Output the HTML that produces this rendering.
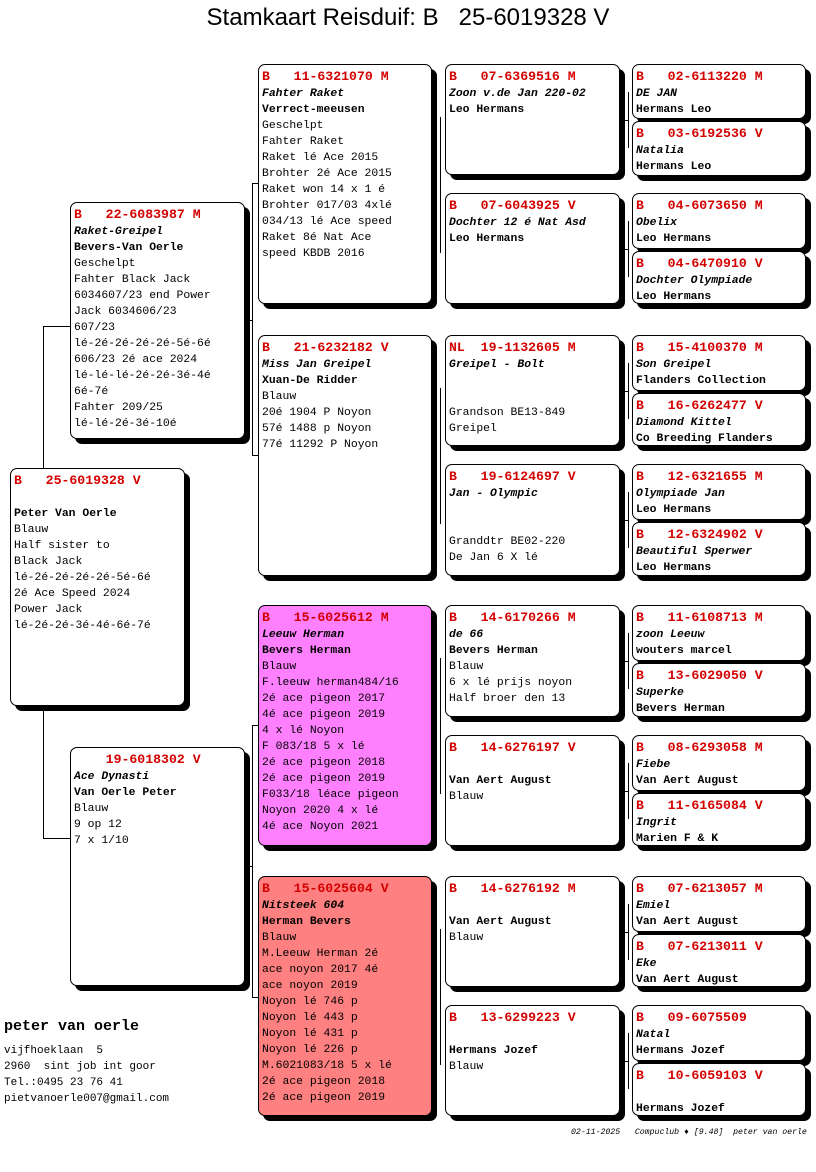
<!DOCTYPE html>
<html><head><meta charset="utf-8"><style>
body{margin:0;width:816px;height:1172px;background:#fff;position:relative;overflow:hidden;font-family:"Liberation Mono",monospace;font-size:11.4px;color:#000}
.bx{position:absolute;border:1px solid #000;border-radius:7px;background:#fff;box-shadow:5px 5px 0 #000;padding:4px 0 0 3px;box-sizing:border-box;line-height:16px;white-space:pre;overflow:hidden}
.r{color:#d40000;font-weight:bold;font-size:13.2px}
.i{font-weight:bold;font-style:italic}
.b{font-weight:bold}
.l{position:absolute;background:#000}
.t{position:absolute;font-family:"Liberation Sans",sans-serif}
</style></head><body>
<div class="t" style="left:0;width:816px;text-align:center;top:4px;font-size:24px">Stamkaart Reisduif: B&nbsp;&nbsp; 25-6019328 V</div>

<!-- connectors -->
<div class="l" style="left:43px;top:326px;width:1px;height:512px"></div>
<div class="l" style="left:43px;top:326px;width:27px;height:1px"></div>
<div class="l" style="left:43px;top:838px;width:27px;height:1px"></div>

<div class="l" style="left:252px;top:183px;width:1px;height:272px"></div>
<div class="l" style="left:252px;top:183px;width:6px;height:1px"></div>
<div class="l" style="left:252px;top:455px;width:6px;height:1px"></div>
<div class="l" style="left:244px;top:320px;width:8px;height:1px"></div>
<div class="l" style="left:252px;top:725px;width:1px;height:272px"></div>
<div class="l" style="left:252px;top:725px;width:6px;height:1px"></div>
<div class="l" style="left:252px;top:997px;width:6px;height:1px"></div>
<div class="l" style="left:244px;top:866px;width:8px;height:1px"></div>

<div class="l" style="left:440px;top:117px;width:1px;height:136px"></div>
<div class="l" style="left:440px;top:388px;width:1px;height:136px"></div>
<div class="l" style="left:440px;top:658px;width:1px;height:136px"></div>
<div class="l" style="left:440px;top:929px;width:1px;height:136px"></div>

<div class="l" style="left:628px;top:92px;width:1px;height:56px"></div>
<div class="l" style="left:628px;top:221px;width:1px;height:56px"></div>
<div class="l" style="left:628px;top:363px;width:1px;height:56px"></div>
<div class="l" style="left:628px;top:492px;width:1px;height:56px"></div>
<div class="l" style="left:628px;top:633px;width:1px;height:56px"></div>
<div class="l" style="left:628px;top:763px;width:1px;height:56px"></div>
<div class="l" style="left:628px;top:904px;width:1px;height:56px"></div>
<div class="l" style="left:628px;top:1033px;width:1px;height:56px"></div>
<div class="l" style="left:619px;top:120px;width:9px;height:1px"></div>
<div class="l" style="left:619px;top:249px;width:9px;height:1px"></div>
<div class="l" style="left:619px;top:391px;width:9px;height:1px"></div>
<div class="l" style="left:619px;top:520px;width:9px;height:1px"></div>
<div class="l" style="left:619px;top:661px;width:9px;height:1px"></div>
<div class="l" style="left:619px;top:791px;width:9px;height:1px"></div>
<div class="l" style="left:619px;top:932px;width:9px;height:1px"></div>
<div class="l" style="left:619px;top:1061px;width:9px;height:1px"></div>

<!-- subject -->
<div class="bx" style="left:10px;top:468px;width:175px;height:238px"><span class="r">B   25-6019328 V</span>

<span class="b">Peter Van Oerle</span>
Blauw
Half sister to
Black Jack
lé-2é-2é-2é-2é-5é-6é
2é Ace Speed 2024
Power Jack
lé-2é-2é-3é-4é-6é-7é</div>

<div class="bx" style="left:70px;top:202px;width:175px;height:237px"><span class="r">B   22-6083987 M</span>
<span class="i">Raket-Greipel</span>
<span class="b">Bevers-Van Oerle</span>
Geschelpt
Fahter Black Jack
6034607/23 end Power
Jack 6034606/23
607/23
lé-2é-2é-2é-2é-5é-6é
606/23 2é ace 2024
lé-lé-lé-2é-2é-3é-4é
6é-7é
Fahter 209/25
lé-lé-2é-3é-10é</div>

<div class="bx" style="left:70px;top:747px;width:175px;height:239px"><span class="r">    19-6018302 V</span>
<span class="i">Ace Dynasti</span>
<span class="b">Van Oerle Peter</span>
Blauw
9 op 12
7 x 1/10</div>

<!-- gen2 -->
<div class="bx" style="left:258px;top:64px;width:174px;height:240px"><span class="r">B   11-6321070 M</span>
<span class="i">Fahter Raket</span>
<span class="b">Verrect-meeusen</span>
Geschelpt
Fahter Raket
Raket lé Ace 2015
Brohter 2é Ace 2015
Raket won 14 x 1 é
Brohter 017/03 4xlé
034/13 lé Ace speed
Raket 8é Nat Ace
speed KBDB 2016</div>
<div class="bx" style="left:258px;top:335px;width:174px;height:241px"><span class="r">B   21-6232182 V</span>
<span class="i">Miss Jan Greipel</span>
<span class="b">Xuan-De Ridder</span>
Blauw
20é 1904 P Noyon
57é 1488 p Noyon
77é 11292 P Noyon</div>
<div class="bx" style="left:258px;top:605px;width:174px;height:241px;background:#ff80ff"><span class="r">B   15-6025612 M</span>
<span class="i">Leeuw Herman</span>
<span class="b">Bevers Herman</span>
Blauw
F.leeuw herman484/16
2é ace pigeon 2017
4é ace pigeon 2019
4 x lé Noyon
F 083/18 5 x lé
2é ace pigeon 2018
2é ace pigeon 2019
F033/18 léace pigeon
Noyon 2020 4 x lé
4é ace Noyon 2021</div>
<div class="bx" style="left:258px;top:876px;width:174px;height:240px;background:#ff8080"><span class="r">B   15-6025604 V</span>
<span class="i">Nitsteek 604</span>
<span class="b">Herman Bevers</span>
Blauw
M.Leeuw Herman 2é
ace noyon 2017 4é
ace noyon 2019
Noyon lé 746 p
Noyon lé 443 p
Noyon lé 431 p
Noyon lé 226 p
M.6021083/18 5 x lé
2é ace pigeon 2018
2é ace pigeon 2019</div>

<!-- gen3 -->
<div class="bx" style="left:445px;top:64px;width:175px;height:111px"><span class="r">B   07-6369516 M</span>
<span class="i">Zoon v.de Jan 220-02</span>
<span class="b">Leo Hermans</span></div>
<div class="bx" style="left:445px;top:193px;width:175px;height:111px"><span class="r">B   07-6043925 V</span>
<span class="i">Dochter 12 é Nat Asd</span>
<span class="b">Leo Hermans</span></div>
<div class="bx" style="left:445px;top:335px;width:175px;height:111px"><span class="r">NL  19-1132605 M</span>
<span class="i">Greipel - Bolt</span>


Grandson BE13-849
Greipel</div>
<div class="bx" style="left:445px;top:464px;width:175px;height:112px"><span class="r">B   19-6124697 V</span>
<span class="i">Jan - Olympic</span>


Granddtr BE02-220
De Jan 6 X lé</div>
<div class="bx" style="left:445px;top:605px;width:175px;height:112px"><span class="r">B   14-6170266 M</span>
<span class="i">de 66</span>
<span class="b">Bevers Herman</span>
Blauw
6 x lé prijs noyon
Half broer den 13</div>
<div class="bx" style="left:445px;top:735px;width:175px;height:111px"><span class="r">B   14-6276197 V</span>

<span class="b">Van Aert August</span>
Blauw</div>
<div class="bx" style="left:445px;top:876px;width:175px;height:111px"><span class="r">B   14-6276192 M</span>

<span class="b">Van Aert August</span>
Blauw</div>
<div class="bx" style="left:445px;top:1005px;width:175px;height:111px"><span class="r">B   13-6299223 V</span>

<span class="b">Hermans Jozef</span>
Blauw</div>

<!-- gen4 -->
<div class="bx" style="left:632px;top:64px;width:174px;height:55px"><span class="r">B   02-6113220 M</span>
<span class="i">DE JAN</span>
<span class="b">Hermans Leo</span></div>
<div class="bx" style="left:632px;top:121px;width:174px;height:55px"><span class="r">B   03-6192536 V</span>
<span class="i">Natalia</span>
<span class="b">Hermans Leo</span></div>
<div class="bx" style="left:632px;top:193px;width:174px;height:56px"><span class="r">B   04-6073650 M</span>
<span class="i">Obelix</span>
<span class="b">Leo Hermans</span></div>
<div class="bx" style="left:632px;top:251px;width:174px;height:53px"><span class="r">B   04-6470910 V</span>
<span class="i">Dochter Olympiade</span>
<span class="b">Leo Hermans</span></div>
<div class="bx" style="left:632px;top:335px;width:174px;height:56px"><span class="r">B   15-4100370 M</span>
<span class="i">Son Greipel</span>
<span class="b">Flanders Collection</span></div>
<div class="bx" style="left:632px;top:393px;width:174px;height:53px"><span class="r">B   16-6262477 V</span>
<span class="i">Diamond Kittel</span>
<span class="b">Co Breeding Flanders</span></div>
<div class="bx" style="left:632px;top:464px;width:174px;height:56px"><span class="r">B   12-6321655 M</span>
<span class="i">Olympiade Jan</span>
<span class="b">Leo Hermans</span></div>
<div class="bx" style="left:632px;top:522px;width:174px;height:54px"><span class="r">B   12-6324902 V</span>
<span class="i">Beautiful Sperwer</span>
<span class="b">Leo Hermans</span></div>
<div class="bx" style="left:632px;top:605px;width:174px;height:56px"><span class="r">B   11-6108713 M</span>
<span class="i">zoon Leeuw</span>
<span class="b">wouters marcel</span></div>
<div class="bx" style="left:632px;top:663px;width:174px;height:54px"><span class="r">B   13-6029050 V</span>
<span class="i">Superke</span>
<span class="b">Bevers Herman</span></div>
<div class="bx" style="left:632px;top:735px;width:174px;height:56px"><span class="r">B   08-6293058 M</span>
<span class="i">Fiebe</span>
<span class="b">Van Aert August</span></div>
<div class="bx" style="left:632px;top:793px;width:174px;height:53px"><span class="r">B   11-6165084 V</span>
<span class="i">Ingrit</span>
<span class="b">Marien F &amp; K</span></div>
<div class="bx" style="left:632px;top:876px;width:174px;height:56px"><span class="r">B   07-6213057 M</span>
<span class="i">Emiel</span>
<span class="b">Van Aert August</span></div>
<div class="bx" style="left:632px;top:934px;width:174px;height:53px"><span class="r">B   07-6213011 V</span>
<span class="i">Eke</span>
<span class="b">Van Aert August</span></div>
<div class="bx" style="left:632px;top:1005px;width:174px;height:56px"><span class="r">B   09-6075509</span>
<span class="i">Natal</span>
<span class="b">Hermans Jozef</span></div>
<div class="bx" style="left:632px;top:1063px;width:174px;height:53px"><span class="r">B   10-6059103 V</span>

<span class="b">Hermans Jozef</span></div>

<!-- owner -->
<div style="position:absolute;left:4px;top:1018px;font-weight:bold;font-size:15px">peter van oerle</div>
<div style="position:absolute;left:4px;top:1043px;font-size:11px;line-height:16px;white-space:pre">vijfhoeklaan  5
2960  sint job int goor
Tel.:0495 23 76 41
pietvanoerle007@gmail.com</div>
<div style="position:absolute;left:571px;top:1128px;font-size:8.2px;font-style:italic;white-space:pre">02-11-2025   Compuclub ♦ [9.48]  peter van oerle</div>
</body></html>
